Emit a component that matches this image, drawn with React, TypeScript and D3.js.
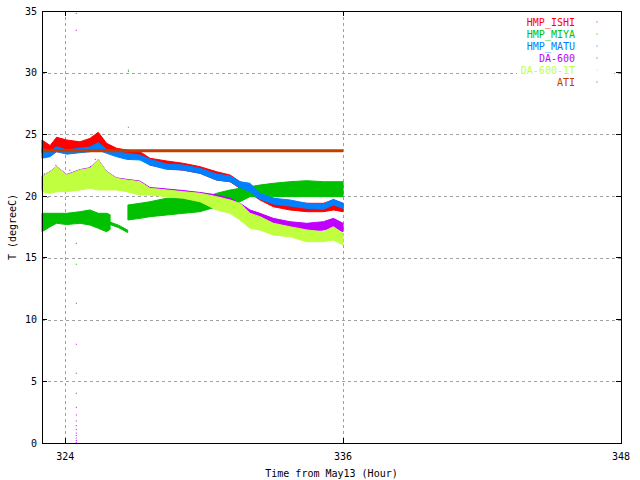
import React from "react";
import * as d3 from "d3";

// [time (hour), low, high]
const hmpIshi: [number, number, number][] = [
  [323.0, 23.5, 24.55], [323.35, 23.5, 24.1], [323.63, 23.7, 24.77], [324.07, 23.6, 24.55],
  [324.64, 23.7, 24.4], [325.07, 23.7, 24.68], [325.43, 23.8, 25.17], [325.79, 23.6, 24.28],
  [326.22, 23.4, 23.88], [326.66, 23.2, 23.74], [327.23, 23.07, 23.6], [327.66, 22.52, 23.07],
  [328.38, 22.25, 22.85], [329.1, 22.1, 22.66], [329.82, 21.85, 22.39], [330.54, 21.3, 21.98],
  [331.12, 21.17, 21.71], [331.55, 20.63, 21.17], [331.98, 20.23, 20.77], [332.41, 19.69, 20.23],
  [332.99, 19.14, 19.83], [333.71, 18.88, 19.55], [334.43, 18.74, 19.42], [335.15, 18.74, 19.42],
  [335.58, 18.88, 19.69], [336.0, 18.74, 19.42],
];

const hmpMatu: [number, number, number][] = [
  [323.0, 23.07, 23.88], [323.35, 23.2, 23.6], [323.63, 23.6, 24.0], [324.07, 23.4, 23.74],
  [324.64, 23.52, 23.88], [325.07, 23.6, 23.98], [325.43, 23.74, 24.33], [325.79, 23.47, 23.8],
  [326.22, 23.2, 23.6], [326.66, 22.98, 23.47], [327.23, 22.93, 23.33], [327.66, 22.52, 22.98],
  [328.38, 22.17, 22.6], [329.1, 22.12, 22.52], [329.82, 21.85, 22.25], [330.54, 21.31, 21.79],
  [331.12, 21.17, 21.63], [331.55, 20.71, 21.17], [331.98, 20.36, 21.04], [332.41, 19.75, 20.23],
  [332.99, 19.36, 19.83], [333.71, 19.2, 19.69], [334.43, 19.01, 19.42], [335.15, 18.93, 19.36],
  [335.58, 19.28, 19.74], [336.0, 19.01, 19.42],
];

const hmpMiyaA: [number, number, number][] = [
  [323.0, 17.12, 18.61], [323.35, 17.52, 18.61], [323.63, 17.8, 18.61], [324.07, 17.7, 18.61],
  [324.64, 17.8, 18.74], [325.07, 17.66, 18.88], [325.43, 17.39, 18.61], [325.79, 17.12, 18.61],
  [325.94, 17.3, 18.5],
];
const hmpMiyaTail: [number, number, number][] = [
  [325.94, 17.7, 17.9], [326.3, 17.45, 17.65], [326.7, 17.05, 17.25],
];
const hmpMiyaB: [number, number, number][] = [
  [326.71, 18.07, 19.28], [327.23, 18.2, 19.42], [327.66, 18.34, 19.55], [328.38, 18.47, 19.83],
  [329.1, 18.61, 19.83], [329.82, 18.74, 19.74], [330.54, 19.14, 20.23], [331.12, 19.42, 20.5],
  [331.55, 19.55, 20.63], [331.98, 19.96, 20.77], [332.41, 19.96, 20.9], [332.99, 19.96, 21.04],
  [333.71, 19.96, 21.17], [334.43, 19.96, 21.25], [335.15, 19.96, 21.17], [336.0, 19.96, 21.17],
];

const da600: [number, number, number][] = [
  [323.0, 20.5, 21.6], [323.35, 20.4, 22.0], [323.63, 20.5, 22.4], [324.07, 20.5, 21.75],
  [324.64, 20.65, 22.15], [325.07, 20.75, 22.3], [325.43, 20.7, 22.95], [325.79, 20.7, 22.0],
  [326.22, 20.7, 21.48], [326.66, 20.55, 21.36], [327.23, 20.3, 21.22], [327.66, 20.25, 20.7],
  [328.38, 20.1, 20.58], [329.1, 19.95, 20.45], [329.82, 19.9, 20.3], [330.54, 19.7, 20.1],
  [331.12, 19.14, 19.83], [331.55, 18.61, 19.42], [331.98, 18.34, 18.88], [332.41, 18.07, 18.61],
  [332.99, 17.52, 18.2], [333.71, 17.39, 17.93], [334.43, 17.12, 17.8], [335.15, 17.26, 17.93],
  [335.58, 17.39, 18.2], [336.0, 17.12, 17.8],
];

const da6001t: [number, number, number][] = [
  [323.0, 20.36, 21.58], [323.35, 20.23, 21.98], [323.63, 20.36, 22.39], [324.07, 20.36, 21.71],
  [324.64, 20.5, 22.12], [325.07, 20.63, 22.25], [325.43, 20.5, 22.93], [325.79, 20.5, 21.98],
  [326.22, 20.5, 21.44], [326.66, 20.36, 21.31], [327.23, 20.09, 21.17], [327.66, 20.09, 20.63],
  [328.38, 19.96, 20.5], [329.1, 19.83, 20.36], [329.82, 19.55, 20.23], [330.54, 18.88, 19.96],
  [331.12, 18.61, 19.69], [331.55, 18.07, 19.42], [331.98, 17.39, 18.61], [332.41, 17.26, 18.34],
  [332.99, 16.85, 17.8], [333.71, 16.71, 17.52], [334.43, 16.31, 17.26], [335.15, 16.31, 17.12],
  [335.58, 16.45, 17.52], [336.0, 16.04, 16.99],
];

const atiTime = [323.0, 336.0];
const atiValue = [23.68, 23.68];

// isolated outlier points [time, value]
const da600Outliers: [number, number][] = [
  [324.48, 34.81], [324.48, 33.44], [324.48, 16.18], [324.48, 11.32], [324.48, 8.0],
  [324.48, 5.65], [324.48, 4.03], [324.48, 2.89], [324.48, 2.27], [324.48, 1.78],
  [324.48, 1.4], [324.48, 1.1], [324.48, 0.8], [324.48, 0.6], [324.48, 0.4], [324.48, 0.2],
  [324.48, 0.05], [325.3, 22.98], [323.1, 21.8], [323.6, 22.5], [324.2, 22.1],
  [325.1, 22.4], [323.25, 19.9],
];
const miyaOutliers: [number, number][] = [
  [324.48, 14.48], [326.73, 30.22], [326.73, 30.1], [326.73, 25.58],
];

const xTicks = [324, 336, 348];
const yTicks = [0, 5, 10, 15, 20, 25, 30, 35];

const seriesNames = ["HMP_ISHI", "HMP_MIYA", "HMP_MATU", "DA-600", "DA-600-1T", "ATI"];
const seriesColors = ["#ff0000", "#00c000", "#0080ff", "#c000ff", "#c0ff40", "#c04000"];

const W = 640;
const H = 480;
const L = 42;
const R = 621;
const T = 11;
const B = 443;

export default function App() {
  const x = d3.scaleLinear().domain([323, 348]).range([L, R]);
  const y = d3.scaleLinear().domain([0, 35]).range([B, T]);

  const area = d3
    .area<[number, number, number]>()
    .x((d) => x(d[0]))
    .y0((d) => y(d[1]))
    .y1((d) => y(d[2]))
    .curve(d3.curveLinear);

  const band = (data: [number, number, number][], color: string, key: string) => (
    <path key={key} d={area(data) || ""} fill={color} stroke={color} strokeWidth={1} />
  );

  const atiLine = d3
    .line<number>()
    .x((d, i) => x(atiTime[i]))
    .y((d) => y(d))(atiValue);

  const font = "'DejaVu Sans Mono', monospace";

  return (
    <svg width={W} height={H} style={{ position: "absolute", left: 0, top: 0, background: "#fff" }}
      fontFamily={font} fontSize={10}>
      <rect x={0} y={0} width={W} height={H} fill="#fff" />
      {/* grid */}
      {yTicks.filter((v) => v > 0 && v < 35).map((v) => (
        <line key={"gy" + v} x1={L} x2={R} y1={Math.round(y(v)) + 0.5} y2={Math.round(y(v)) + 0.5}
          stroke="#a0a0a0" strokeDasharray="3,3" shapeRendering="crispEdges" />
      ))}
      {xTicks.filter((v) => v < 348).map((v) => (
        <line key={"gx" + v} x1={Math.round(x(v)) + 0.5} x2={Math.round(x(v)) + 0.5} y1={T} y2={B}
          stroke="#a0a0a0" strokeDasharray="3,3" shapeRendering="crispEdges" />
      ))}
      {/* legend background */}
      <rect x={517} y={13} width={97} height={76} fill="#fff" />
      {/* data */}
      {band(hmpIshi, seriesColors[0], "ishi")}
      {band(hmpMiyaA, seriesColors[1], "miyaA")}
      {band(hmpMiyaTail, seriesColors[1], "miyaT")}
      {band(hmpMiyaB, seriesColors[1], "miyaB")}
      {miyaOutliers.map((d, i) => (
        <rect key={"mo" + i} x={x(d[0]) - 0.5} y={y(d[1]) - 0.5} width={1} height={1} fill={seriesColors[1]} />
      ))}
      {band(hmpMatu, seriesColors[2], "matu")}
      {band(da600, seriesColors[3], "da600")}
      {da600Outliers.map((d, i) => (
        <rect key={"po" + i} x={x(d[0]) - 0.5} y={y(d[1]) - 0.5} width={1} height={1} fill={seriesColors[3]} />
      ))}
      {band(da6001t, seriesColors[4], "da6001t")}
      <path d={atiLine || ""} fill="none" stroke={seriesColors[5]} strokeWidth={3} />
      {/* frame */}
      <rect x={L + 0.5} y={T + 0.5} width={R - L} height={B - T} fill="none" stroke="#000" strokeWidth={1}
        shapeRendering="crispEdges" />
      {/* ticks */}
      {yTicks.map((v) => (
        <g key={"ty" + v}>
          <line x1={L} x2={L + 5} y1={y(v)} y2={y(v)} stroke="#000" shapeRendering="crispEdges" />
          <line x1={R} x2={R - 5} y1={y(v)} y2={y(v)} stroke="#000" shapeRendering="crispEdges" />
          <text x={L - 5} y={y(v)} dy="0.35em" textAnchor="end">{v}</text>
        </g>
      ))}
      {xTicks.map((v) => (
        <g key={"tx" + v}>
          <line x1={x(v)} x2={x(v)} y1={B} y2={B - 5} stroke="#000" shapeRendering="crispEdges" />
          <line x1={x(v)} x2={x(v)} y1={T} y2={T + 5} stroke="#000" shapeRendering="crispEdges" />
          <text x={x(v)} y={B + 13} dy="0.35em" textAnchor="middle">{v}</text>
        </g>
      ))}
      {/* axis labels */}
      <text x={(L + R) / 2} y={473} textAnchor="middle" dy="0.35em">Time from May13 (Hour)</text>
      <text transform={`translate(12,${(T + B) / 2}) rotate(-90)`} textAnchor="middle" dy="0.35em">T (degreeC)</text>
      {/* legend */}
      {seriesNames.map((n, i) => (
        <g key={"lg" + n}>
          <text x={575} y={22 + i * 12} dy="0.35em" textAnchor="end" fill={seriesColors[i]}>{n}</text>
          <rect x={596.5} y={21.5 + i * 12} width={1} height={1} fill={seriesColors[i]} />
        </g>
      ))}
    </svg>
  );
}
